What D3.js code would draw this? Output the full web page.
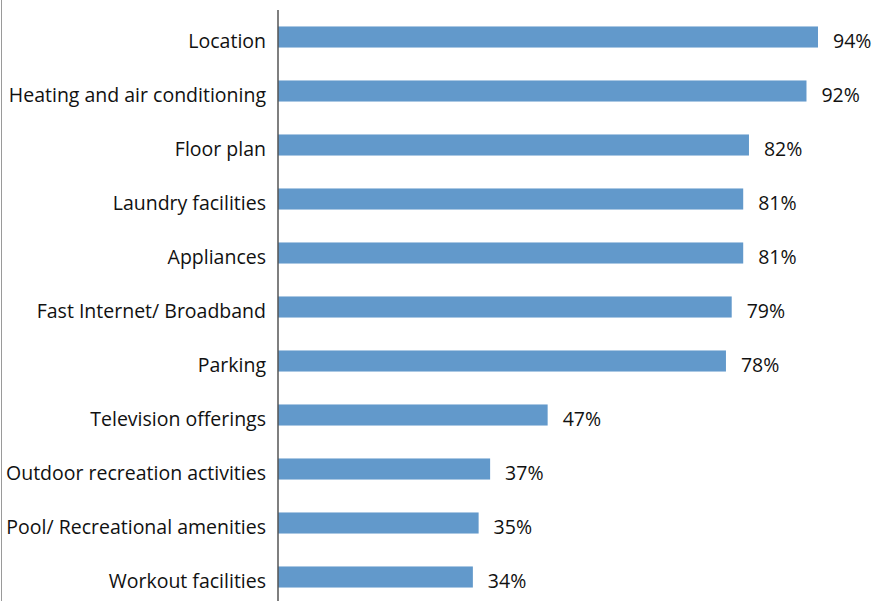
<!DOCTYPE html>
<html>
<head>
<meta charset="utf-8">
<script src="https://cdn.jsdelivr.net/npm/d3@7"></script>
<style>
  html, body { margin: 0; padding: 0; background: #fff; }
  svg { display: block; }
</style>
</head>
<body>
<svg id="chart" width="874" height="601"></svg>
<script>
// Features rated important by renters (share of respondents)
const categories = [
  "Location",
  "Heating and air conditioning",
  "Floor plan",
  "Laundry facilities",
  "Appliances",
  "Fast Internet/ Broadband",
  "Parking",
  "Television offerings",
  "Outdoor recreation activities",
  "Pool/ Recreational amenities",
  "Workout facilities"
];
const values = [94, 92, 82, 81, 81, 79, 78, 47, 37, 35, 34];

const width = 874, height = 601;
const axisX = 278;

const svg = d3.select("#chart");

const x = d3.scaleLinear().domain([0, 100]).range([277.3, 852.5]);
const y = d3.scaleBand().domain(categories).range([10, 604]).paddingInner(0.61).paddingOuter(0.305);

const font = "'Open Sans', 'Noto Sans', sans-serif";
const fontSize = 19.5;

// frame edge on the left
svg.append("line")
  .attr("x1", 1.5).attr("x2", 1.5)
  .attr("y1", 0).attr("y2", height)
  .attr("stroke", "#9a9a9a").attr("stroke-width", 1);

// bars
svg.append("g").selectAll("rect")
  .data(categories)
  .join("rect")
  .attr("x", axisX)
  .attr("y", d => y(d))
  .attr("width", (d, i) => x(values[i]) - axisX)
  .attr("height", y.bandwidth())
  .attr("fill", "#6299CB");

// category axis
const yAxis = d3.axisLeft(y).tickSize(0).tickPadding(12);
const gAxis = svg.append("g")
  .attr("transform", `translate(${axisX},0)`)
  .call(yAxis);
gAxis.select(".domain").remove();
gAxis.append("line")
  .attr("x1", 0).attr("x2", 0)
  .attr("y1", 10).attr("y2", height)
  .attr("stroke", "#555").attr("stroke-width", 1.5);
gAxis.selectAll(".tick text")
  .attr("dy", null)
  .attr("y", 11)
  .attr("font-family", font)
  .attr("font-size", fontSize)
  .attr("fill", "#111");

// value labels
svg.append("g").selectAll("text")
  .data(categories)
  .join("text")
  .attr("x", (d, i) => x(values[i]) + 15)
  .attr("y", d => y(d) + y.bandwidth() / 2 + 11)
  .attr("font-family", font)
  .attr("font-size", fontSize)
  .attr("fill", "#111")
  .text((d, i) => values[i] + "%");
</script>
</body>
</html>
